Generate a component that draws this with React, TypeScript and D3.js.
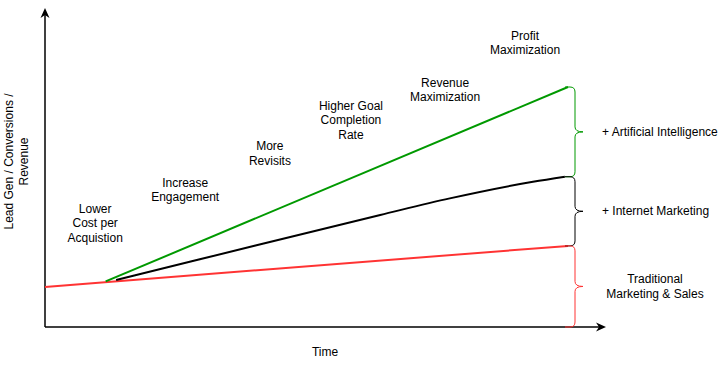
import * as d3 from "d3";

// series values: [time, level] in chart units (time 0..100, level 0..100)
const traditional: [number, number][] = [[0, 16.7], [100, 33.8]];
const internet: [number, number][] = [[13.6, 19.6], [29.6, 28.2], [64.1, 46.7], [77.4, 53.6], [93.3, 60.5], [99.4, 62.6]];
const ai: [number, number][] = [[11.6, 19], [100, 100]];

// stage annotations along the top of the curve (level = first line baseline)
const stageLabels = [
  ["Lower", "Cost per", "Acquistion"],
  ["Increase", "Engagement"],
  ["More", "Revisits"],
  ["Higher Goal", "Completion", "Rate"],
  ["Revenue", "Maximization"],
  ["Profit", "Maximization"],
];
const stageTime = [9.6, 26.8, 43, 58.5, 76.5, 91.8];
const stageLevel = [47.5, 58.5, 73.7, 90.4, 100.1, 119.6];

const braceLabels = [
  ["+ Artificial Intelligence"],
  ["+ Internet Marketing"],
  ["Traditional", "Marketing & Sales"],
];

const yTitle = ["Lead Gen / Conversions /", "Revenue"];
const xTitle = "Time";

const W = 721;
const H = 368;
const FONT = "'Liberation Sans', Arial, Helvetica, sans-serif";

const App = () => {
  const x = d3.scaleLinear().domain([0, 100]).range([45, 568]);
  const y = d3.scaleLinear().domain([0, 100]).range([327, 87]);

  const line = d3.line<[number, number]>().x(d => x(d[0])).y(d => y(d[1]));
  const curve = d3.line<[number, number]>().x(d => x(d[0])).y(d => y(d[1])).curve(d3.curveMonotoneX);

  const x0 = x(0), y0 = y(0);
  const xEnd = 606, yEnd = 8;

  const brace = (yTop: number, yBot: number) => {
    const xb = 575, r = 5, ym = (yTop + yBot) / 2;
    return `M565,${yTop} L570,${yTop} Q${xb},${yTop} ${xb},${yTop + r} L${xb},${ym - r} Q${xb},${ym} ${xb + 8},${ym} Q${xb},${ym} ${xb},${ym + r} L${xb},${yBot - r} Q${xb},${yBot} 570,${yBot} L565,${yBot}`;
  };

  const ends = [ai[ai.length - 1][1], internet[internet.length - 1][1], traditional[traditional.length - 1][1], 0];
  const colors = ["#009900", "#000000", "#FF3333"];
  const braceText = [[602, "start"], [602, "start"], [655, "middle"]] as const;

  return (
    <svg width={W} height={H} style={{ position: "absolute", left: 0, top: 0, background: "#fff" }} fontFamily={FONT} fontSize={12}>
      {/* axes */}
      <line x1={x0} y1={y0} x2={xEnd - 6} y2={y0} stroke="#000" strokeWidth={1.5} />
      <line x1={x0} y1={y0} x2={x0} y2={yEnd + 6} stroke="#000" strokeWidth={1.5} />
      <path d={`M${xEnd},${y0} L${xEnd - 10},${y0 - 4.5} L${xEnd - 7},${y0} L${xEnd - 10},${y0 + 4.5} Z`} fill="#000" />
      <path d={`M${x0},${yEnd} L${x0 - 4.5},${yEnd + 10} L${x0},${yEnd + 7} L${x0 + 4.5},${yEnd + 10} Z`} fill="#000" />

      {/* series */}
      <path d={line(traditional) || ""} fill="none" stroke="#FF3333" strokeWidth={2} />
      <path d={curve(internet) || ""} fill="none" stroke="#000" strokeWidth={2} />
      <path d={line(ai) || ""} fill="none" stroke="#009900" strokeWidth={2} />

      {/* braces */}
      {colors.map((c, i) => (
        <path key={i} d={brace(y(ends[i]), y(ends[i + 1]))} fill="none" stroke={c} strokeWidth={1} />
      ))}
      {braceLabels.map((lines, i) => {
        const ym = (y(ends[i]) + y(ends[i + 1])) / 2;
        const top = ym + 4 - ((lines.length - 1) * 14.3) / 2;
        return (
          <text key={i} x={braceText[i][0]} textAnchor={braceText[i][1]}>
            {lines.map((l, j) => (
              <tspan key={j} x={braceText[i][0]} y={top + j * 14.3}>{l}</tspan>
            ))}
          </text>
        );
      })}

      {/* stage labels */}
      {stageLabels.map((lines, i) => (
        <text key={i} textAnchor="middle">
          {lines.map((l, j) => (
            <tspan key={j} x={x(stageTime[i])} y={y(stageLevel[i]) + j * 14.4}>{l}</tspan>
          ))}
        </text>
      ))}

      {/* axis titles */}
      <text x={325} y={356} textAnchor="middle">{xTitle}</text>
      {yTitle.map((t, i) => (
        <text key={i} transform={`translate(${13 + i * 15},161.5) rotate(-90)`} textAnchor="middle">{t}</text>
      ))}
    </svg>
  );
};

export default App;
